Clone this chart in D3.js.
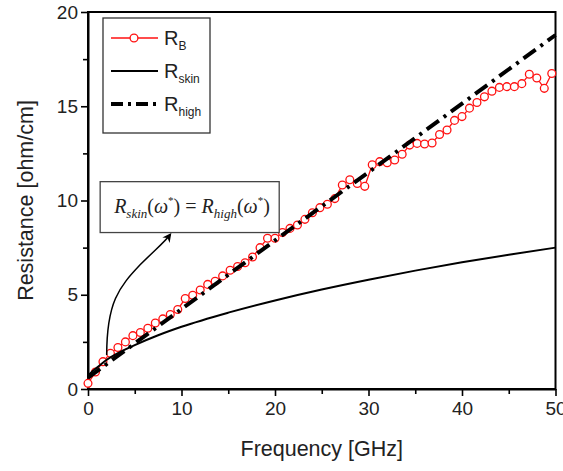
<!DOCTYPE html>
<html>
<head>
<meta charset="utf-8">
<script src="https://cdn.jsdelivr.net/npm/d3@7"></script>
<style>
  body { margin: 0; background: #fff; }
  text { font-family: "Liberation Sans", Arial, sans-serif; }
</style>
</head>
<body>
<div id="chart"></div>
<script>
'use strict';

// measured R_B (every 0.8 GHz)
const freqB = [0, 0.8, 1.6, 2.4, 3.2, 4.0, 4.8, 5.6, 6.4, 7.2, 8.0, 8.8, 9.6, 10.4, 11.2, 12.0,
    12.8, 13.6, 14.4, 15.2, 16.0, 16.8, 17.6, 18.4, 19.2, 20.0, 20.8, 21.6, 22.4, 23.2, 24.0,
    24.8, 25.6, 26.4, 27.2, 28.0, 28.8, 29.6, 30.4, 31.2, 32.0, 32.8, 33.6, 34.4, 35.2, 36.0,
    36.8, 37.6, 38.4, 39.2, 40.0, 40.8, 41.6, 42.4, 43.2, 44.0, 44.8, 45.6, 46.4, 47.2, 48.0,
    48.8, 49.6];
const rB = [0.3, 0.9, 1.45, 1.89, 2.2, 2.5, 2.83, 3.0, 3.22, 3.5, 3.72, 3.95, 4.22, 4.8, 4.97, 5.25,
    5.55, 5.72, 6.0, 6.3, 6.5, 6.7, 7.0, 7.5, 8.0, 8.0, 8.3, 8.52, 8.7, 9.0, 9.35,
    9.62, 9.8, 10.1, 10.82, 11.1, 10.9, 10.75, 11.9, 12.06, 12.0, 12.15, 12.45, 12.94, 13.03, 13.0,
    13.05, 13.5, 13.74, 14.25, 14.45, 14.9, 15.2, 15.5, 15.8, 16.0, 16.04, 16.04, 16.2, 16.7, 16.5,
    15.95, 16.74];

// R_skin curve
const freqSkin = [0, 0.5, 1, 2, 3, 4, 5, 7.5, 10, 15, 20, 25, 30, 35, 40, 45, 50];
const rSkin = [0.7, 0.95, 1.15, 1.55, 1.85, 2.1, 2.33, 2.85, 3.3, 4.05, 4.7, 5.28, 5.8, 6.28, 6.72, 7.12, 7.5];

// R_high line
const freqHigh = [0, 10, 20, 30, 40, 50];
const rHigh = [0.6, 4.24, 7.88, 11.5, 15.14, 18.78];

const xTicks = [0, 10, 20, 30, 40, 50];
const yTicks = [0, 5, 10, 15, 20];

// annotation arrow, in data units (tail, controls, head)
const arrowPts = [[2.0, 1.8], [2.0, 4.6], [3.3, 5.4], [5.6, 6.6], [7.2, 7.4], [8.2, 7.8], [8.8, 8.2]];

var margin = { top: 12, right: 7.5, bottom: 82, left: 88 },
    width = 563 - margin.left - margin.right,
    height = 471 - margin.top - margin.bottom;

var x = d3.scaleLinear()
    .domain([0, 50])
    .range([0, width]);

var y = d3.scaleLinear()
    .domain([0, 20])
    .range([height, 0]);

var svg = d3.select("#chart").append("svg")
    .attr("width", 563)
    .attr("height", 471)
    .append("g")
    .attr("transform", "translate(" + margin.left + "," + margin.top + ")");

svg.append("defs").append("marker")
    .attr("id", "head")
    .attr("viewBox", "0 0 10 10")
    .attr("refX", 8).attr("refY", 5)
    .attr("markerWidth", 9).attr("markerHeight", 9)
    .attr("markerUnits", "userSpaceOnUse")
    .attr("orient", "auto")
    .append("path")
    .attr("d", "M0,0 L10,5 L0,10 L3,5 z")
    .style("fill", "black");

// minor ticks
svg.append("g")
    .attr("transform", "translate(0," + height + ")")
    .call(d3.axisBottom(x).tickValues([5, 15, 25, 35, 45]).tickSize(5).tickFormat(""))
    .call(g => g.select(".domain").remove())
    .selectAll("line").style("stroke-width", "1.6px");

svg.append("g")
    .call(d3.axisLeft(y).tickValues([2.5, 7.5, 12.5, 17.5]).tickSize(5).tickFormat(""))
    .call(g => g.select(".domain").remove())
    .selectAll("line").style("stroke-width", "1.6px");

var xAxis = svg.append("g")
    .attr("transform", "translate(0," + height + ")")
    .call(d3.axisBottom(x).tickValues(xTicks).tickSize(7).tickSizeOuter(0).tickPadding(6));

var yAxis = svg.append("g")
    .call(d3.axisLeft(y).tickValues(yTicks).tickSize(7).tickSizeOuter(0).tickPadding(3));

[xAxis, yAxis].forEach(function (a) {
    a.select(".domain").style("stroke-width", "2px");
    a.selectAll(".tick line").style("stroke-width", "1.6px");
    a.selectAll(".tick text")
        .style("font-family", "'Liberation Sans', Arial, sans-serif")
        .style("font-size", "19px")
        .style("fill", "#222");
});

// frame
svg.append("rect")
    .attr("width", width)
    .attr("height", height)
    .style("fill", "none")
    .style("stroke", "black")
    .style("stroke-width", "2px");

svg.append("text")
    .attr("x", width / 2)
    .attr("y", height + 67)
    .attr("text-anchor", "middle")
    .style("font-size", "21.5px")
    .style("fill", "#222")
    .text("Frequency [GHz]");

svg.append("text")
    .attr("transform", "translate(-55," + (height / 2) + ") rotate(-90)")
    .attr("text-anchor", "middle")
    .style("font-size", "21.5px")
    .style("fill", "#222")
    .text("Resistance [ohm/cm]");

var line = d3.line()
    .x(function (d) { return x(d[0]); })
    .y(function (d) { return y(d[1]); });

var dataB = freqB.map(function (f, i) { return [f, rB[i]]; });

svg.append("path")
    .datum(dataB)
    .style("fill", "none")
    .style("stroke", "#f11")
    .style("stroke-width", "1.3px")
    .attr("d", line);

svg.selectAll(".pt")
    .data(dataB)
    .enter().append("circle")
    .attr("class", "pt")
    .attr("cx", function (d) { return x(d[0]); })
    .attr("cy", function (d) { return y(d[1]); })
    .attr("r", 3.9)
    .style("fill", "white")
    .style("stroke", "#f11")
    .style("stroke-width", "1.3px");

svg.append("path")
    .datum(freqSkin.map(function (f, i) { return [f, rSkin[i]]; }))
    .style("fill", "none")
    .style("stroke", "black")
    .style("stroke-width", "2px")
    .attr("d", line.curve(d3.curveMonotoneX));

svg.append("path")
    .datum(freqHigh.map(function (f, i) { return [f, rHigh[i]]; }))
    .style("fill", "none")
    .style("stroke", "black")
    .style("stroke-width", "4px")
    .style("stroke-dasharray", "15,6,3,6")
    .attr("d", line.curve(d3.curveLinear));

// legend
var legend = svg.append("g").attr("transform", "translate(15,6)");
legend.append("rect")
    .attr("width", 107).attr("height", 115)
    .style("fill", "white")
    .style("stroke", "#333")
    .style("stroke-width", "1.3px");

var rows = [
    { sub: "B", stroke: "#f11", w: 1.5, dash: null, mark: true },
    { sub: "skin", stroke: "black", w: 2, dash: null, mark: false },
    { sub: "high", stroke: "black", w: 4, dash: "12,5,3,5", mark: false }
];
rows.forEach(function (r, i) {
    var ry = 20 + i * 33;
    legend.append("line")
        .attr("x1", 8).attr("x2", 55).attr("y1", ry).attr("y2", ry)
        .style("stroke", r.stroke)
        .style("stroke-width", r.w + "px")
        .style("stroke-dasharray", r.dash);
    if (r.mark) {
        legend.append("circle")
            .attr("cx", 31).attr("cy", ry).attr("r", 3.9)
            .style("fill", "white").style("stroke", r.stroke).style("stroke-width", "1.3px");
    }
    var t = legend.append("text")
        .attr("x", 61).attr("y", ry + 7)
        .style("font-size", "20px")
        .style("fill", "#222");
    t.append("tspan").text("R");
    t.append("tspan").attr("dy", 5).style("font-size", "12px").text(r.sub);
});

// annotation box and arrow
var bx = x(1.3), by = y(11.0);
var ann = svg.append("g");
ann.append("rect")
    .attr("x", bx).attr("y", by)
    .attr("width", x(20.45) - bx).attr("height", y(8.3) - by)
    .style("fill", "white")
    .style("stroke", "#444")
    .style("stroke-width", "1.3px");

var at = ann.append("text")
    .attr("x", bx + 14).attr("y", by + 31)
    .style("font-family", "'Liberation Serif', 'Times New Roman', serif")
    .style("font-size", "20px")
    .style("fill", "#222");
at.append("tspan").style("font-style", "italic").text("R");
at.append("tspan").attr("dy", 5).style("font-size", "13px").style("font-style", "italic").text("skin");
at.append("tspan").attr("dy", -5).text("(");
at.append("tspan").style("font-style", "italic").text("ω");
at.append("tspan").attr("dy", -9).style("font-size", "11px").text("*");
at.append("tspan").attr("dy", 9).text(") = ");
at.append("tspan").style("font-style", "italic").text("R");
at.append("tspan").attr("dy", 5).style("font-size", "13px").style("font-style", "italic").text("high");
at.append("tspan").attr("dy", -5).text("(");
at.append("tspan").style("font-style", "italic").text("ω");
at.append("tspan").attr("dy", -9).style("font-size", "11px").text("*");
at.append("tspan").attr("dy", 9).text(")");

var p = arrowPts.map(function (d) { return [x(d[0]), y(d[1])]; });
var arrowPath = d3.path();
arrowPath.moveTo(p[0][0], p[0][1]);
arrowPath.bezierCurveTo(p[1][0], p[1][1], p[2][0], p[2][1], p[3][0], p[3][1]);
arrowPath.bezierCurveTo(p[4][0], p[4][1], p[5][0], p[5][1], p[6][0], p[6][1]);
ann.append("path")
    .attr("d", arrowPath.toString())
    .style("fill", "none")
    .style("stroke", "black")
    .style("stroke-width", "1.5px")
    .attr("marker-end", "url(#head)");
</script>
</body>
</html>
